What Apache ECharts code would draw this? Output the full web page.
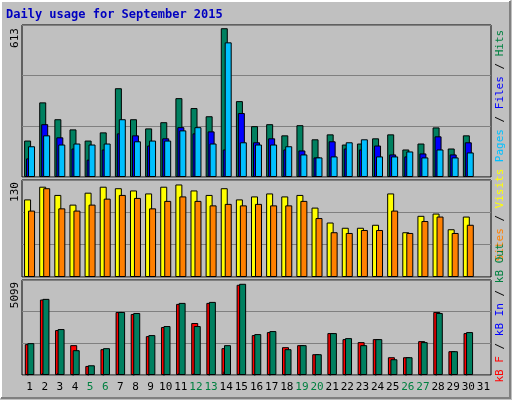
<!DOCTYPE html>
<html>
<head>
<meta charset="utf-8">
<script src="https://cdn.jsdelivr.net/npm/echarts@6/dist/echarts.min.js"></script>
<style>
  html, body { margin: 0; padding: 0; background: #c0c0c0; }
  #chart { width: 512px; height: 400px; }
</style>
</head>
<body>
<div id="chart"></div>
<script>
const days = Array.from({ length: 31 }, (_, i) => String(i + 1));
const weekendDays = ['5', '6', '12', '13', '19', '20', '26', '27'];

// Hits / Files / Pages
const hits = [147, 301, 233, 192, 147, 180, 358, 233, 196, 221, 318, 278, 245, 600, 306, 205, 213, 168, 209, 152, 172, 131, 135, 156, 172, 111, 135, 200, 115, 168];
const files = [75, 213, 160, 115, 70, 111, 176, 168, 127, 156, 201, 176, 184, 111, 258, 140, 156, 111, 107, 79, 144, 115, 111, 127, 91, 83, 95, 164, 91, 140];
const pages = [124, 168, 131, 135, 131, 135, 233, 144, 147, 147, 188, 201, 135, 543, 140, 131, 131, 124, 91, 79, 83, 140, 152, 83, 83, 103, 79, 111, 79, 99];

// Visits / Sites
const visits = [104, 121, 110, 97, 113, 121, 119, 116, 112, 121, 124, 116, 110, 119, 104, 108, 112, 108, 110, 93, 73, 66, 66, 70, 112, 60, 82, 85, 64, 81];
const sites = [89, 119, 92, 89, 97, 105, 110, 106, 92, 102, 108, 102, 96, 98, 96, 98, 96, 96, 102, 79, 60, 59, 63, 63, 89, 59, 75, 81, 59, 70];

// kB F / kB In / kB Out
const kbF = [1656, 4050, 2412, 1602, 486, 1386, 3384, 3276, 2088, 2574, 3816, 2790, 3870, 1440, 4842, 2142, 2304, 1494, 1602, 1116, 2250, 1926, 1764, 1926, 954, 954, 1818, 3384, 1278, 2250];
const kbIn = [30, 108, 100, 30, 30, 30, 90, 30, 30, 30, 90, 90, 30, 200, 90, 30, 30, 30, 30, 30, 30, 30, 30, 30, 30, 30, 30, 30, 30, 30];
const kbOut = [1710, 4086, 2466, 1332, 522, 1440, 3384, 3330, 2142, 2628, 3870, 2628, 3924, 1602, 4896, 2196, 2358, 1386, 1602, 1116, 2250, 1980, 1602, 1926, 846, 954, 1764, 3330, 1278, 2304];

const maxTop = 613, maxMid = 130, maxBot = 5099;

const chart = echarts.init(document.getElementById('chart'));
const grids = [
    { left: 22, width: 469, top: 25, height: 152 },
    { left: 22, width: 469, top: 180, height: 97 },
    { left: 22, width: 469, top: 280, height: 95 }
];
const mkGrid = (g) => ({ ...g, show: true, backgroundColor: '#c0c0c0', borderColor: '#000', borderWidth: 1 });
const mkX = (i) => ({
    type: 'category', gridIndex: i, data: days, boundaryGap: true,
    axisLine: { show: false }, axisTick: { show: false },
    axisLabel: i === 2 ? {
        show: true, interval: 0, margin: 7, fontFamily: 'DejaVu Sans Mono', fontSize: 11,
        color: (v) => (weekendDays.includes(v) ? '#008040' : '#000')
    } : { show: false }
});
const mkY = (i, max) => ({
    type: 'value', gridIndex: i, min: 0, max, interval: max / 3,
    axisLine: { show: false }, axisTick: { show: false }, axisLabel: { show: false },
    splitLine: { lineStyle: { color: '#808080', width: 1 } }
});
const bar = (name, data, i, color, width, gap) => ({
    name, type: 'bar', data, xAxisIndex: i, yAxisIndex: i, barWidth: width, barGap: gap,
    itemStyle: { color, borderColor: '#000', borderWidth: 1 }, silent: true, animation: false
});

const sideText = (x, y, rich, parts) => ({
    type: 'text', x, y, rotation: Math.PI / 2,
    style: {
        text: parts.join(''), align: 'center', verticalAlign: 'middle',
        fontFamily: 'DejaVu Sans Mono', fontSize: 11, rich
    }
});
const rich = {
    k: { fill: '#000', fontFamily: 'DejaVu Sans Mono', fontSize: 11 },
    c: { fill: '#00c0ff', fontFamily: 'DejaVu Sans Mono', fontSize: 11 },
    b: { fill: '#0000ff', fontFamily: 'DejaVu Sans Mono', fontSize: 11 },
    g: { fill: '#008040', fontFamily: 'DejaVu Sans Mono', fontSize: 11 },
    o: { fill: '#ff8000', fontFamily: 'DejaVu Sans Mono', fontSize: 11 },
    y: { fill: '#ffff00', fontFamily: 'DejaVu Sans Mono', fontSize: 11 },
    r: { fill: '#ff0000', fontFamily: 'DejaVu Sans Mono', fontSize: 11 }
};

chart.setOption({
    backgroundColor: '#c0c0c0',
    animation: false,
    grid: grids.map(mkGrid),
    xAxis: [0, 1, 2].map(mkX),
    yAxis: [mkY(0, maxTop), mkY(1, maxMid), mkY(2, maxBot)],
    series: [
        bar('Hits', hits, 0, '#008060', 7, '-72%'),
        bar('Files', files, 0, '#0000ff', 7, '-72%'),
        bar('Pages', pages, 0, '#00c0ff', 7, '-72%'),
        bar('Visits', visits, 1, '#ffff00', 7, '-43%'),
        bar('Sites', sites, 1, '#ff8000', 7, '-43%'),
        bar('kB F', kbF, 2, '#ff0000', 7, '-72%'),
        bar('kB In', kbIn, 2, '#0000ff', 2, '-72%'),
        bar('kB Out', kbOut, 2, '#008060', 7, '-72%')
    ],
    graphic: [
        { type: 'polyline', shape: { points: [[1, 398], [1, 1], [510, 1]] }, style: { stroke: '#fff', lineWidth: 2, fill: null } },
        { type: 'polyline', shape: { points: [[510, 1], [510, 398], [1, 398]] }, style: { stroke: '#808080', lineWidth: 2, fill: null } },
        { type: 'text', x: 6, y: 9, style: { text: 'Daily usage for September 2015', fill: '#0000c0', fontFamily: 'DejaVu Sans Mono', fontWeight: 'bold', fontSize: 12 } },
        { type: 'text', x: 15, y: 38, rotation: Math.PI / 2, style: { text: String(maxTop), align: 'center', verticalAlign: 'middle', fill: '#000', fontFamily: 'DejaVu Sans Mono', fontSize: 11 } },
        { type: 'text', x: 15, y: 192, rotation: Math.PI / 2, style: { text: String(maxMid), align: 'center', verticalAlign: 'middle', fill: '#000', fontFamily: 'DejaVu Sans Mono', fontSize: 11 } },
        { type: 'text', x: 15, y: 295, rotation: Math.PI / 2, style: { text: String(maxBot), align: 'center', verticalAlign: 'middle', fill: '#000', fontFamily: 'DejaVu Sans Mono', fontSize: 11 } },
        sideText(500, 96, rich, ['{c|Pages}', '{k| / }', '{b|Files}', '{k| / }', '{g|Hits}']),
        sideText(500, 215, rich, ['{o|Sites}', '{k| / }', '{y|Visits}']),
        sideText(500, 313, rich, ['{r|kB F}', '{k| / }', '{b|kB In}', '{k| / }', '{g|kB Out}'])
    ]
});
</script>
</body>
</html>
